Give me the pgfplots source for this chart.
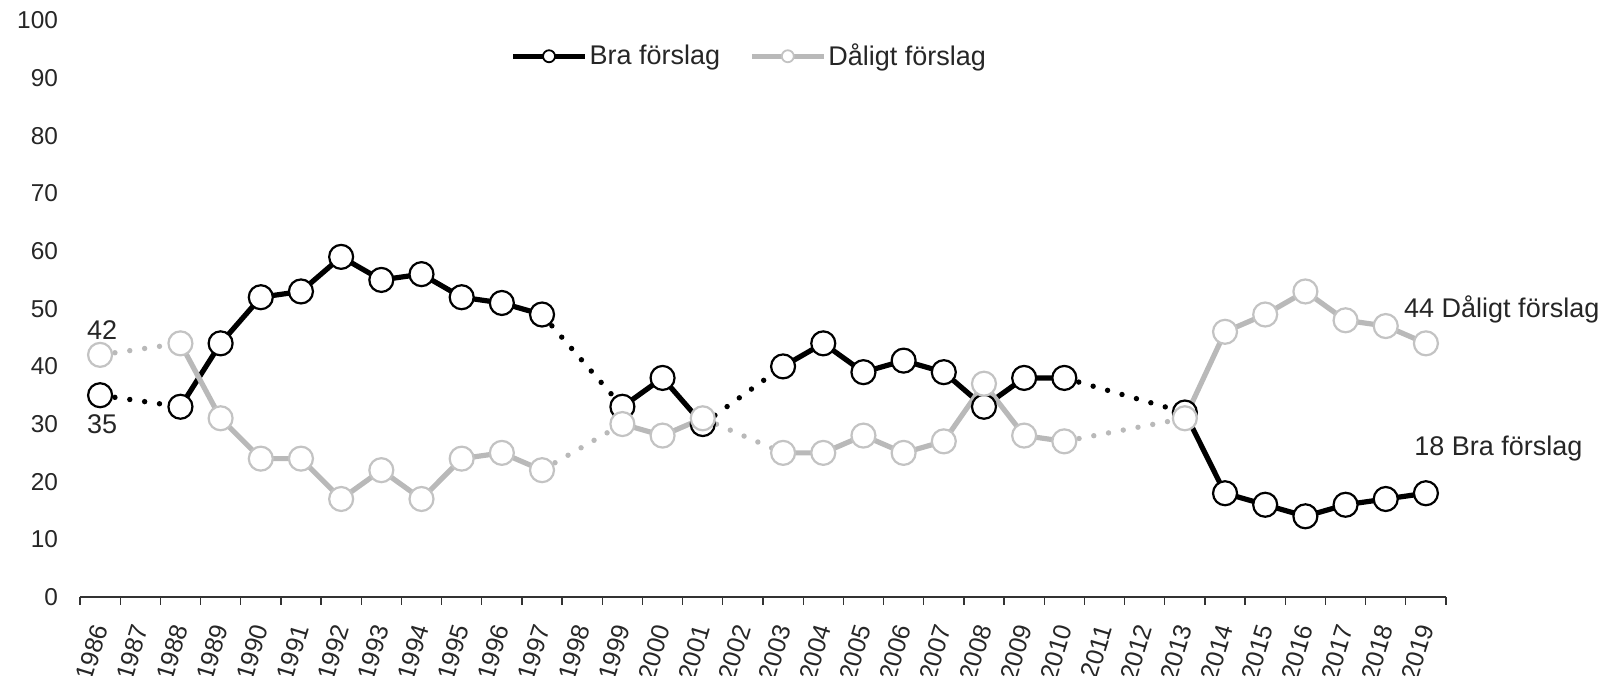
\documentclass[border=0pt]{standalone}
\usepackage{pgfplots}
\pgfplotsset{compat=1.18}
\usepackage{fontspec}
\setmainfont{Liberation Sans}
\definecolor{grline}{RGB}{185,185,185}
\definecolor{grmark}{RGB}{195,195,195}
\begin{document}
\begin{tikzpicture}
\begin{axis}[
  at={(0,0)}, anchor=south west,
  scale only axis, width=683pt, height=288.25pt,
  xmin=-0.5, xmax=33.5, ymin=0, ymax=100,
  clip=false,
  unbounded coords=jump,
  axis x line*=bottom, axis y line*=left,
  y axis line style={draw=none},
  x axis line style={line width=1pt, black!80, -},
  xtick={0,...,33},
  xticklabels={1986,1987,1988,1989,1990,1991,1992,1993,1994,1995,1996,1997,1998,1999,2000,2001,2002,2003,2004,2005,2006,2007,2008,2009,2010,2011,2012,2013,2014,2015,2016,2017,2018,2019},
  major tick length=0pt,
  minor xtick={-0.5,0.5,...,33.5},
  minor tick length=3.9pt,
  minor tick style={line width=0.65pt, black!80},
  tick align=outside,
  ytick={0,10,...,100},
  /pgf/number format/assume math mode=true,
  yticklabel style={xshift=-7.5pt, font=\fontsize{12.2}{14}\selectfont, text=black!85},
  xticklabel style={yshift=-11pt, xshift=1pt, rotate=73, anchor=east, font=\fontsize{12.5}{14}\selectfont, text=black!85},
  legend style={draw=none, fill=none, inner sep=0pt, at={(0.3148,0.938)}, anchor=west,
    font=\fontsize{13.5}{15}\selectfont, text=black!85,
    nodes={inner sep=1pt},
    /tikz/every even column/.append style={column sep=13.5pt}},
  legend columns=2,
  legend cell align=left,
  legend image code/.code={\draw[mark repeat=2,mark phase=2] plot coordinates {(0pt,0pt) (18pt,0pt) (36pt,0pt)};},
]
\addlegendimage{black, line width=2.6pt, mark=*, mark size=3pt, mark options={solid, fill=white, draw=black, line width=0.9pt}}
\addlegendentry{Bra förslag}
\addlegendimage{grline, line width=2.6pt, mark=*, mark size=3pt, mark options={solid, fill=white, draw=grmark, line width=0.9pt}}
\addlegendentry{Dåligt förslag}

% Bra forslag dotted gaps
\addplot[forget plot, black, line width=2.7pt, line cap=round, dash pattern=on 0pt off 7.5pt]
coordinates {(0,35)(2,33)(3,nan)(11,49)(13,33)(14,nan)(15,30)(17,40)(18,nan)(24,38)(27,32)};
% Bra forslag solid
\addplot[forget plot, black, line width=2.6pt, mark=*, mark size=6pt, mark options={solid, fill=white, draw=black, line width=1.1pt}]
coordinates {(0,35)(1,nan)(2,33)(3,44)(4,52)(5,53)(6,59)(7,55)(8,56)(9,52)(10,51)(11,49)(12,nan)(13,33)(14,38)(15,30)(16,nan)(17,40)(18,44)(19,39)(20,41)(21,39)(22,33)(23,38)(24,38)(25,nan)(26,nan)(27,32)(28,18)(29,16)(30,14)(31,16)(32,17)(33,18)};

% Daligt forslag dotted gaps
\addplot[forget plot, grline, line width=2.7pt, line cap=round, dash pattern=on 0pt off 7.5pt]
coordinates {(0,42)(2,44)(3,nan)(11,22)(13,30)(14,nan)(15,31)(17,25)(18,nan)(24,27)(27,31)};
% Daligt forslag solid
\addplot[forget plot, grline, line width=2.6pt, mark=*, mark size=6pt, mark options={solid, fill=white, draw=grmark, line width=1.1pt}]
coordinates {(0,42)(1,nan)(2,44)(3,31)(4,24)(5,24)(6,17)(7,22)(8,17)(9,24)(10,25)(11,22)(12,nan)(13,30)(14,28)(15,31)(16,nan)(17,25)(18,25)(19,28)(20,25)(21,27)(22,37)(23,28)(24,27)(25,nan)(26,nan)(27,31)(28,46)(29,49)(30,53)(31,48)(32,47)(33,44)};

\node[font=\fontsize{13.5}{15}\selectfont, text=black!85, inner sep=0pt] at (axis cs:0.05,46.3) {42};
\node[font=\fontsize{13.5}{15}\selectfont, text=black!85, inner sep=0pt] at (axis cs:0.05,30.0) {35};
\node[font=\fontsize{13.5}{15}\selectfont, text=black!85, inner sep=0pt, anchor=west] at (axis cs:32.45,49.8) {44 Dåligt förslag};
\node[font=\fontsize{13.5}{15}\selectfont, text=black!85, inner sep=0pt, anchor=west] at (axis cs:32.7,25.8) {18 Bra förslag};
\end{axis}
\pgfresetboundingbox
\path (-40pt,-39pt) rectangle (763pt,298.5pt);
\end{tikzpicture}
\end{document}
